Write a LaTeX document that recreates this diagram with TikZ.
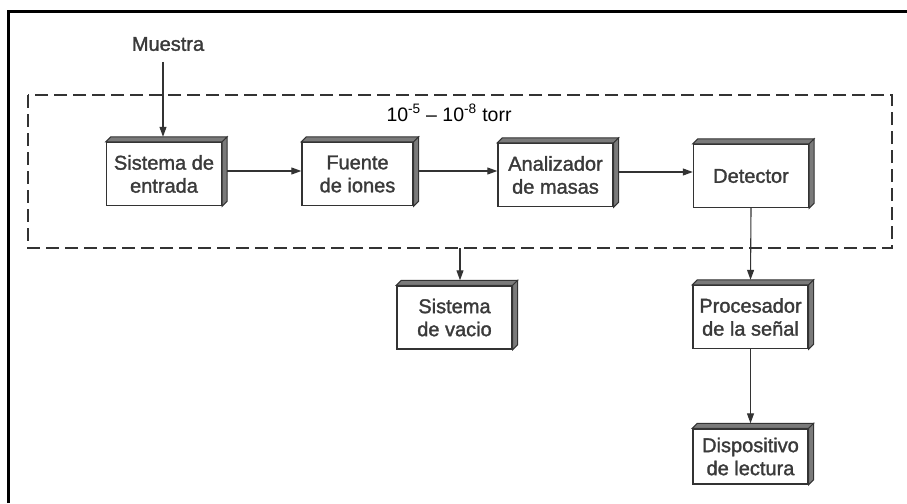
\documentclass[tikz,border=0pt]{standalone}
\usepackage{fontspec}
\setmainfont{Liberation Sans}
\newfontfamily\medfont[FakeBold=1.5]{Liberation Sans}
\usetikzlibrary{arrows.meta,calc}
\definecolor{ink}{HTML}{333333}
\definecolor{txt}{HTML}{3A3A3A}
\definecolor{side}{HTML}{7A7A7A}
\tikzset{
  blk/.style={draw=ink, line width=1.4pt, fill=white, minimum width=115pt, minimum height=63pt,
    inner sep=0pt, align=center, font=\medfont\fontsize{20}{23}\selectfont, text=txt},
  conn/.style={draw=ink, line width=1.1pt},
  arr/.style={conn, -{Triangle[length=10pt,width=7pt]}},
  frame/.style={draw=black, line width=3pt},
  vac/.style={draw=ink, line width=1.5pt, dash pattern=on 13pt off 6pt},
  lbl/.style={font=\medfont\fontsize{20}{23}\selectfont, text=txt, inner sep=0pt},
  slab/.style={draw=ink, line width=1pt, fill=side}
}
\begin{document}
\begin{tikzpicture}[x=1pt,y=-1pt]
\useasboundingbox (0,0) rectangle (907,503);
\fill[white] (0,0) rectangle (907,503);
% frame
\draw[frame] (8,503) -- (8,12) -- (907,12);
% vacuum region
\draw[vac] (28,95) rectangle (892,248);
\node[inner sep=0pt, text=black, font=\fontsize{19.5}{22}\selectfont] (torr) at (449,113) {10\textsuperscript{-5} – 10\textsuperscript{-8} torr};
% blocks
\node[blk] (ent) at (164,174) {Sistema de\\entrada};
\node[blk, minimum width=111pt] (ion) at (357.5,174) {Fuente\\de iones};
\node[blk] (ana) at (555.5,175) {Analizador\\de masas};
\node[blk] (det) at (751,176) {Detector};
\node[blk] (vacio) at (454.5,317.5) {Sistema\\de vacio};
\node[blk] (proc) at (750.5,317) {Procesador\\de la señal};
\node[blk, minimum height=55pt] (disp) at (750.5,456.5) {Dispositivo\\de lectura};
% 3D parts
\foreach \n in {ent,ion,ana,det,vacio,proc,disp}{
  \filldraw[slab] (\n.north west) -- ++(5,-5) -- ([shift={(5,-5)}]\n.north east) -- (\n.north east) -- cycle;
  \filldraw[slab] (\n.north east) -- ++(5,-5) -- ([shift={(5,-5)}]\n.south east) -- (\n.south east) -- cycle;
  \coordinate (\n T) at ([shift={(0,-5)}]\n.north);
  \coordinate (\n R) at ([shift={(5,-3)}]\n.east);
}
% labels and connectors
\node[lbl] (mue) at (168,44) {Muestra};
\coordinate (mueout) at (163,62);
\draw[arr] (mueout) -- (mueout |- entT);
\draw[arr] (entR) -- (ion.west |- entR);
\draw[arr] (ionR) -- (ana.west |- ionR);
\draw[arr] (anaR) -- (det.west |- anaR);
\coordinate (vacin) at (460,248);
\draw[arr] (vacin) -- (vacin |- vacioT);
\draw[arr] (det.south) -- (procT);
\draw[arr] (proc.south) -- (dispT);
\end{tikzpicture}
\end{document}
